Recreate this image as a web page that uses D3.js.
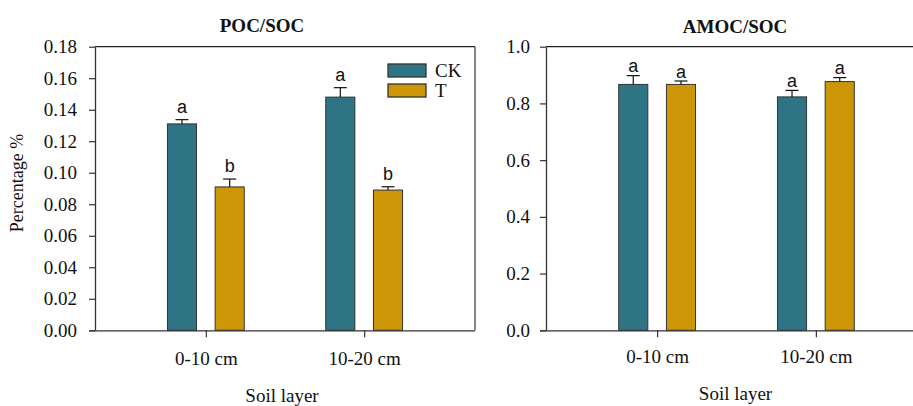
<!DOCTYPE html>
<html>
<head>
<meta charset="utf-8">
<script src="https://cdn.jsdelivr.net/npm/d3@7"></script>
<style>
  body { margin: 0; background: #fff; }
  svg { display: block; }
  text { font-family: "Liberation Serif", "Times New Roman", serif; fill: #111; }
  .sig { font-family: "Liberation Sans", Arial, sans-serif; }
</style>
</head>
<body>
<svg id="chart" width="913" height="406"></svg>
<script>
// Soil layers and treatments
const layers = ["0-10 cm", "10-20 cm"];
const treatments = ["CK", "T"];
const colors = ["#2e7485", "#cc9607"];

// POC/SOC ratio (mean, SE) and significance letters, per layer: [CK, T]
const pocMean = [[0.131, 0.091], [0.148, 0.089]];
const pocErr  = [[0.0027, 0.0050], [0.0060, 0.0021]];
const pocSig  = [["a", "b"], ["a", "b"]];
const pocTicks = [0, 0.02, 0.04, 0.06, 0.08, 0.10, 0.12, 0.14, 0.16, 0.18];

// AMOC/SOC ratio (mean, SE) and significance letters
const amocMean = [[0.867, 0.867], [0.823, 0.877]];
const amocErr  = [[0.031, 0.012], [0.023, 0.014]];
const amocSig  = [["a", "a"], ["a", "a"]];
const amocTicks = [0, 0.2, 0.4, 0.6, 0.8, 1.0];

const svg = d3.select("#chart");

function panel(opt) {
  const g = svg.append("g");
  const x = d3.scalePoint().domain(layers).range([opt.left, opt.right]).padding(0.7);
  const x1 = d3.scaleBand().domain(treatments).range([-38.4, 38.4])
    .paddingInner(0.39).paddingOuter(0);
  const y = d3.scaleLinear().domain(opt.domain).range([330.3, 46.7]);

  // frame: top and right edges
  g.append("line").attr("x1", opt.left).attr("x2", opt.right)
    .attr("y1", y.range()[1]).attr("y2", y.range()[1])
    .attr("stroke", "#222").attr("stroke-width", 1.3);
  g.append("line").attr("x1", opt.right).attr("x2", opt.right)
    .attr("y1", y.range()[1]).attr("y2", y.range()[0])
    .attr("stroke", "#444").attr("stroke-width", 1.3);

  // bars
  const rows = [];
  layers.forEach((l, i) => treatments.forEach((t, j) => rows.push({
    layer: l, trt: t, j: j, v: opt.mean[i][j], e: opt.err[i][j], s: opt.sig[i][j]
  })));

  g.selectAll("rect.bar").data(rows).join("rect")
    .attr("class", "bar")
    .attr("x", d => x(d.layer) + x1(d.trt))
    .attr("width", x1.bandwidth())
    .attr("y", d => y(d.v))
    .attr("height", d => y(0) - y(d.v))
    .attr("fill", d => colors[d.j])
    .attr("stroke", "#333").attr("stroke-width", 1);

  // error bars (upper)
  const cx = d => x(d.layer) + x1(d.trt) + x1.bandwidth() / 2;
  g.selectAll("line.err").data(rows).join("line").attr("class", "err")
    .attr("x1", cx).attr("x2", cx)
    .attr("y1", d => y(d.v)).attr("y2", d => y(d.v + d.e))
    .attr("stroke", "#111").attr("stroke-width", 1.2);
  g.selectAll("line.cap").data(rows).join("line").attr("class", "cap")
    .attr("x1", d => cx(d) - 6.5).attr("x2", d => cx(d) + 6.5)
    .attr("y1", d => y(d.v + d.e)).attr("y2", d => y(d.v + d.e))
    .attr("stroke", "#111").attr("stroke-width", 1.2);

  // significance letters
  g.selectAll("text.sig").data(rows).join("text").attr("class", "sig")
    .attr("x", cx)
    .attr("y", d => y(d.v + d.e) - opt.sigGap)
    .attr("text-anchor", "middle")
    .style("font-size", "18px")
    .text(d => d.s);

  // y axis
  const ya = g.append("g").attr("transform", `translate(${opt.left},0)`)
    .call(d3.axisLeft(y).tickValues(opt.ticks).tickFormat(d3.format(opt.fmt))
      .tickSize(6).tickSizeOuter(0).tickPadding(opt.tickPad));
  ya.select(".domain").attr("stroke", "#333").attr("stroke-width", 1.3);
  ya.selectAll(".tick line").attr("stroke", "#333").attr("stroke-width", 1.2);
  ya.selectAll(".tick text").style("font-size", "19px")
    .style("font-family", "'Liberation Serif', serif").attr("fill", "#111");

  // x axis
  const xa = g.append("g").attr("transform", `translate(0,${y(0)})`)
    .call(d3.axisBottom(x).tickSize(7).tickSizeOuter(0).tickPadding(opt.xPad));
  xa.select(".domain").attr("stroke", "#333").attr("stroke-width", 1.3)
    .attr("d", `M${opt.left - 6},0.5H${opt.right}`);
  xa.selectAll(".tick line").attr("stroke", "#333").attr("stroke-width", 1.2);
  xa.selectAll(".tick text").style("font-size", "19px")
    .style("font-family", "'Liberation Serif', serif").attr("fill", "#111");

  // titles
  g.append("text").attr("x", opt.titleX).attr("y", opt.titleY)
    .attr("text-anchor", "middle").style("font-size", "19px").style("font-weight", "bold")
    .text(opt.title);
  g.append("text").attr("x", opt.xlabX).attr("y", opt.xlabY)
    .attr("text-anchor", "middle").style("font-size", "19px")
    .text("Soil layer");
  return { x, y };
}

panel({
  left: 95, right: 475, domain: [0, 0.18], ticks: pocTicks, fmt: ".2f", tickPad: 12,
  mean: pocMean, err: pocErr, sig: pocSig, sigGap: 7,
  title: "POC/SOC", titleX: 262, titleY: 31.5, xlabX: 282, xlabY: 401.5, xPad: 14
});
panel({
  left: 546, right: 927, domain: [0, 1], ticks: amocTicks, fmt: ".1f", tickPad: 10,
  mean: amocMean, err: amocErr, sig: amocSig, sigGap: 3.5,
  title: "AMOC/SOC", titleX: 735, titleY: 33, xlabX: 735.5, xlabY: 400, xPad: 12
});

// y-axis label
svg.append("text")
  .attr("transform", "translate(23,183) rotate(-90)")
  .attr("text-anchor", "middle").style("font-size", "18px")
  .text("Percentage %");

// legend
const leg = svg.append("g").attr("transform", "translate(388,64)");
treatments.forEach((t, i) => {
  leg.append("rect").attr("x", 0).attr("y", i * 20).attr("width", 38).attr("height", 13)
    .attr("fill", colors[i]).attr("stroke", "#333").attr("stroke-width", 1.3);
  leg.append("text").attr("x", 47).attr("y", i * 20 + 13)
    .style("font-size", "19px").text(t);
});
</script>
</body>
</html>
